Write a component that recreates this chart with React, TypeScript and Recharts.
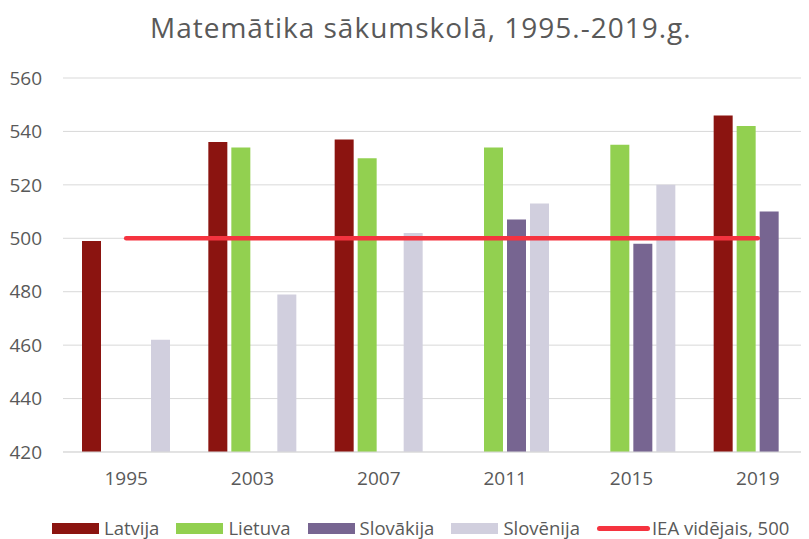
import React from 'react';
import { ComposedChart, Bar, Line, XAxis, YAxis, CartesianGrid } from 'recharts';

const years = ['1995', '2003', '2007', '2011', '2015', '2019'];
const latvija = [499, 536, 537, null, null, 546];
const lietuva = [null, 534, 530, 534, 535, 542];
const slovakija = [null, null, null, 507, 498, 510];
const slovenija = [462, 479, 502, 513, 520, null];
const ieaAvg = [500, 500, 500, 500, 500, 500];
const yTicks = [420, 440, 460, 480, 500, 520, 540, 560];

const data = years.map((year, i) => ({
  year,
  latvija: latvija[i],
  lietuva: lietuva[i],
  slovakija: slovakija[i],
  slovenija: slovenija[i],
  iea: ieaAvg[i],
}));

const TEXT = '#595959';
const FONT = '"Open Sans", sans-serif';

const legendItems = [
  { name: 'Latvija', color: '#8b1410', line: false },
  { name: 'Lietuva', color: '#92d050', line: false },
  { name: 'Slovākija', color: '#776591', line: false },
  { name: 'Slovēnija', color: '#d1cfde', line: false },
  { name: 'IEA vidējais, 500', color: '#f5333f', line: true },
];

const App: React.FC = () => {
  return (
    <div
      style={{
        position: 'relative',
        width: 809,
        height: 539,
        margin: '-8px 0 0 -8px',
        overflow: 'hidden',
        background: '#fff',
        fontFamily: FONT,
      }}
    >
      <div
        style={{
          position: 'absolute',
          left: 150,
          top: 9,
          fontSize: 28,
          letterSpacing: 1,
          color: TEXT,
          whiteSpace: 'nowrap',
          lineHeight: '36px',
        }}
      >
        Matemātika sākumskolā, 1995.-2019.g.
      </div>
      <div style={{ position: 'absolute', left: 0, top: 0 }}>
        <ComposedChart
          width={830}
          height={539}
          data={data}
          margin={{ top: 78, right: 9, bottom: 57, left: 0 }}
          barSize={19}
          barGap={4}
        >
          <CartesianGrid vertical={false} stroke="#d9d9d9" />
          <XAxis
            dataKey="year"
            height={30}
            axisLine={{ stroke: '#d9d9d9' }}
            tickLine={false}
            tickMargin={14}
            tick={{ fill: TEXT, fontSize: 19, fontFamily: FONT }}
          />
          <YAxis
            domain={[420, 560]}
            ticks={yTicks}
            width={63}
            axisLine={false}
            tickLine={false}
            tickMargin={15}
            tick={{ fill: TEXT, fontSize: 19, fontFamily: FONT }}
          />
          <Bar dataKey="latvija" name="Latvija" fill="#8b1410" isAnimationActive={false} />
          <Bar dataKey="lietuva" name="Lietuva" fill="#92d050" isAnimationActive={false} />
          <Bar dataKey="slovakija" name="Slovākija" fill="#776591" isAnimationActive={false} />
          <Bar dataKey="slovenija" name="Slovēnija" fill="#d1cfde" isAnimationActive={false} />
          <Line
            dataKey="iea"
            name="IEA vidējais, 500"
            stroke="#f5333f"
            strokeWidth={4.5}
            strokeLinecap="round"
            dot={false}
            activeDot={false}
            isAnimationActive={false}
          />
        </ComposedChart>
      </div>
      <div
        style={{
          position: 'absolute',
          left: 52,
          top: 516,
          width: 757,
          display: 'flex',
          alignItems: 'center',
          fontSize: 18.5,
          color: TEXT,
          whiteSpace: 'nowrap',
          lineHeight: '24px',
        }}
      >
        {legendItems.map((item) =>
          item.line ? (
            <span key={item.name} style={{ display: 'flex', alignItems: 'center', flexShrink: 0 }}>
              <span
                style={{
                  width: 53,
                  height: 5,
                  borderRadius: 3,
                  background: item.color,
                  marginRight: 2,
                  flexShrink: 0,
                }}
              />
              {item.name}
            </span>
          ) : (
            <span
              key={item.name}
              style={{ display: 'flex', alignItems: 'center', marginRight: 17, flexShrink: 0 }}
            >
              <span
                style={{ width: 47, height: 11, background: item.color, marginRight: 5, flexShrink: 0 }}
              />
              {item.name}
            </span>
          )
        )}
      </div>
    </div>
  );
};

export default App;
